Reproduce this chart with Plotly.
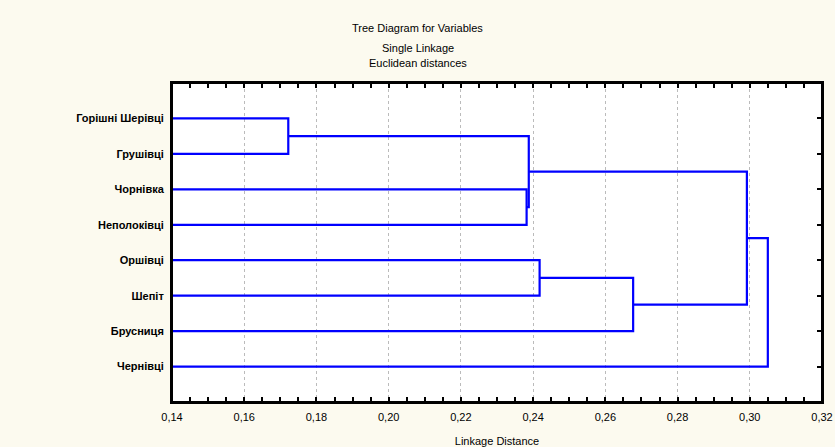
import plotly.graph_objects as go

# ---- data ----
leaf_labels = ["Горішні Шерівці", "Грушівці", "Чорнівка", "Неполоківці",
               "Оршівці", "Шепіт", "Брусниця", "Чернівці"]
# merges: (child_a, child_b, linkage distance); new clusters numbered from len(leaf_labels)
merge_a = [0, 2, 8, 4, 11, 10, 13]
merge_b = [1, 3, 9, 5, 6, 12, 7]
merge_h = [0.1722, 0.2382, 0.2388, 0.2418, 0.2677, 0.2992, 0.3050]
x_min, x_max = 0.14, 0.32
x_ticks = [0.14, 0.16, 0.18, 0.20, 0.22, 0.24, 0.26, 0.28, 0.30, 0.32]

# ---- build dendrogram segments ----
n = len(leaf_labels)
pos = {i: i + 1 for i in range(n)}
hgt = {i: x_min for i in range(n)}
xs, ys = [], []
for k, (a, b, h) in enumerate(zip(merge_a, merge_b, merge_h)):
    xs += [hgt[a], h, h, hgt[b], None]
    ys += [pos[a], pos[a], pos[b], pos[b], None]
    pos[n + k] = (pos[a] + pos[b]) / 2
    hgt[n + k] = h

fig = go.Figure()
fig.add_trace(go.Scatter(x=xs, y=ys, mode="lines",
                         line=dict(color="#0000FF", width=2.2),
                         hoverinfo="skip", showlegend=False))
fig.add_trace(go.Scatter(x=[x_min], y=[1], yaxis="y2", mode="markers",
                         marker=dict(opacity=0), showlegend=False, hoverinfo="skip"))

font_family = "Liberation Sans, Arial, sans-serif"
L, R, T, B = 172, 13, 83, 45
fig.update_layout(
    width=835, height=447,
    margin=dict(l=L, r=R, t=T, b=B, autoexpand=False),
    paper_bgcolor="#FCFAEF", plot_bgcolor="#FFFFFF",
    separators=", ",
    font=dict(family=font_family, size=11, color="#000000"),
    xaxis=dict(range=[x_min, x_max], tickvals=x_ticks, tickformat=".2f",
               automargin=False,
               showline=True, linecolor="#000000", linewidth=2, mirror="allticks",
               ticks="inside", ticklen=5, tickcolor="#000000", tickwidth=1.5,
               minor=dict(dtick=0.005, ticks="inside", ticklen=3, tickcolor="#000000",
                          showgrid=False),
               showgrid=True, gridcolor="#BBBBBB", griddash="dot", gridwidth=1,
               zeroline=False, ticklabelstandoff=4,
               tickfont=dict(size=11),
               title=dict(text="Linkage Distance", standoff=16,
                          font=dict(size=11))),
    yaxis=dict(range=[n + 1, 0], tickvals=list(range(1, n + 1)), ticktext=leaf_labels,
               automargin=False,
               showline=True, linecolor="#000000", linewidth=2, ticks="",
               showgrid=False, zeroline=False, ticklabelstandoff=4,
               tickfont=dict(size=11, family=font_family, weight="bold")),
    yaxis2=dict(range=[n + 1, 0], overlaying="y", side="right", automargin=False,
                tickvals=list(range(1, n + 1)), showticklabels=False,
                showline=True, linecolor="#000000", linewidth=2,
                ticks="inside", ticklen=5, tickcolor="#000000", tickwidth=1.5,
                showgrid=False, zeroline=False),
)
fig.add_shape(type="rect", xref="paper", yref="paper", x0=0, x1=1, y0=0, y1=1,
              line=dict(color="#000000", width=2), layer="above")

plot_h = 447 - T - B
plot_w = 835 - L - R
for txt, ypix in zip(["Tree Diagram for Variables", "Single Linkage", "Euclidean distances"],
                     [28, 48, 63]):
    fig.add_annotation(text=txt, xref="paper", yref="paper",
                       x=(417.5 - L) / plot_w, y=1 + (T - ypix) / plot_h,
                       yanchor="middle", showarrow=False,
                       font=dict(size=11, family=font_family))

fig.write_html("out.html", config={"displayModeBar": False},
               post_script="document.body.style.margin='0';document.body.style.overflow='hidden';")
